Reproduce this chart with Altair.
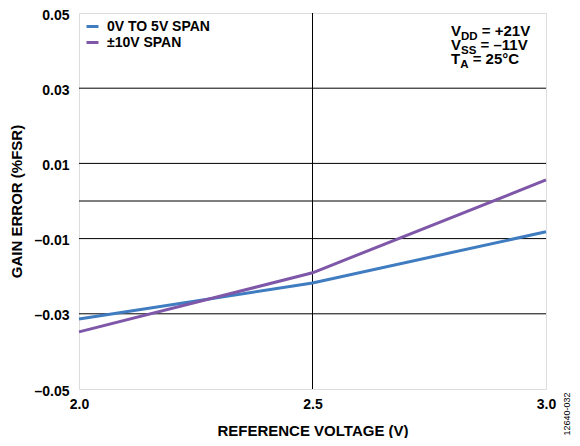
import altair as alt
import pandas as pd

# Data
ref_voltage = [2.0, 2.5, 3.0]
span_0_5 = [-0.0314, -0.0218, -0.0082]
span_pm10 = [-0.0348, -0.0191, 0.0056]
series_names = ["0V TO 5V SPAN", "±10V SPAN"]
series_colors = ["#3F7CC0", "#7E57A8"]
grid_y = [-0.03, -0.01, 0.0, 0.01, 0.03]
grid_x = [2.5]
y_ticks = [-0.05, -0.03, -0.01, 0.01, 0.03, 0.05]
x_ticks = [2.0, 2.5, 3.0]

FONT = "Liberation Sans"

rows = []
for v, a, b in zip(ref_voltage, span_0_5, span_pm10):
    rows.append({"v": v, "err": a, "series": series_names[0]})
    rows.append({"v": v, "err": b, "series": series_names[1]})
df = pd.DataFrame(rows)

xscale = alt.Scale(domain=[2.0, 3.0], nice=False, zero=False)
yscale = alt.Scale(domain=[-0.05, 0.05], nice=False, zero=False)

hgrid = alt.Chart(pd.DataFrame({"g": grid_y})).mark_rule(color="black", strokeWidth=1).encode(
    y=alt.Y("g:Q", scale=yscale)
)
vgrid = alt.Chart(pd.DataFrame({"g": grid_x})).mark_rule(color="black", strokeWidth=1).encode(
    x=alt.X("g:Q", scale=xscale)
)

lines = alt.Chart(df).mark_line(strokeWidth=3).encode(
    x=alt.X(
        "v:Q",
        scale=xscale,
        axis=alt.Axis(
            title="REFERENCE VOLTAGE (V)",
            values=x_ticks,
            format=".1f",
            grid=False,
            ticks=False,
            domain=False,
            labelFont=FONT,
            labelFontSize=14,
            labelFontWeight="bold",
            labelColor="black",
            labelPadding=8,
            labelFlush=False,
            titleFont=FONT,
            titleFontSize=15,
            titleFontWeight="bold",
            titleColor="black",
            titleBaseline="alphabetic",
            titleY=46,
        ),
    ),
    y=alt.Y(
        "err:Q",
        scale=yscale,
        axis=alt.Axis(
            title="GAIN ERROR (%FSR)",
            values=y_ticks,
            labelExpr="(datum.value < 0 ? '–' : '') + format(abs(datum.value), '.2f')",
            grid=False,
            ticks=False,
            domain=False,
            labelFont=FONT,
            labelFontSize=14,
            labelFontWeight="bold",
            labelColor="black",
            labelPadding=10,
            labelOffset=2,
            labelFlush=False,
            titleFont=FONT,
            titleFontSize=15,
            titleFontWeight="bold",
            titleColor="black",
            titleBaseline="alphabetic",
            titleX=-58,
            titleY=188,
        ),
    ),
    color=alt.Color(
        "series:N",
        scale=alt.Scale(domain=series_names, range=series_colors),
        sort=series_names,
        legend=alt.Legend(
            title=None,
            orient="none",
            legendX=6,
            legendY=6,
            symbolType="stroke",
            symbolSize=144,
            symbolStrokeWidth=3,
            labelFont=FONT,
            labelFontSize=14,
            labelFontWeight="bold",
            labelColor="black",
            labelOffset=7,
            rowPadding=1,
            padding=0,
        ),
    ),
)

def txt(s, x, y, size=15, weight="bold", angle=0, align="left"):
    return alt.Chart(pd.DataFrame({"t": [s]})).mark_text(
        font=FONT, fontSize=size, fontWeight=weight, color="black",
        align=align, baseline="alphabetic", angle=angle,
    ).encode(text="t:N", x=alt.value(x), y=alt.value(y))

MAIN = 15
SUB = 11.5
x0 = 372
wV = 0.667 * MAIN
wT = 0.611 * MAIN
wsp = 0.278 * MAIN
ann = [
    txt("V", x0, 23), txt("DD", x0 + wV, 27, size=SUB), txt("= +21V", x0 + wV + 2 * 0.722 * SUB + wsp, 23),
    txt("V", x0, 37), txt("SS", x0 + wV, 41, size=SUB), txt("= –11V", x0 + wV + 2 * 0.667 * SUB + wsp, 37),
    txt("T", x0, 51), txt("A", x0 + wT, 55, size=SUB), txt("= 25°C", x0 + wT + 0.722 * SUB + wsp, 51),
    txt("12640-032", 491, 401, size=9, weight="normal", angle=270, align="center"),
]

chart = alt.layer(hgrid, vgrid, lines, *ann).properties(
    width=467,
    height=376,
    autosize=alt.AutoSizeParams(type="none"),
    padding={"left": 71, "top": 5, "right": 26, "bottom": 49},
).configure_view(stroke="black", strokeWidth=2).configure(background="white")

chart.save("out.html", embed_options={"renderer": "svg", "actions": False})
